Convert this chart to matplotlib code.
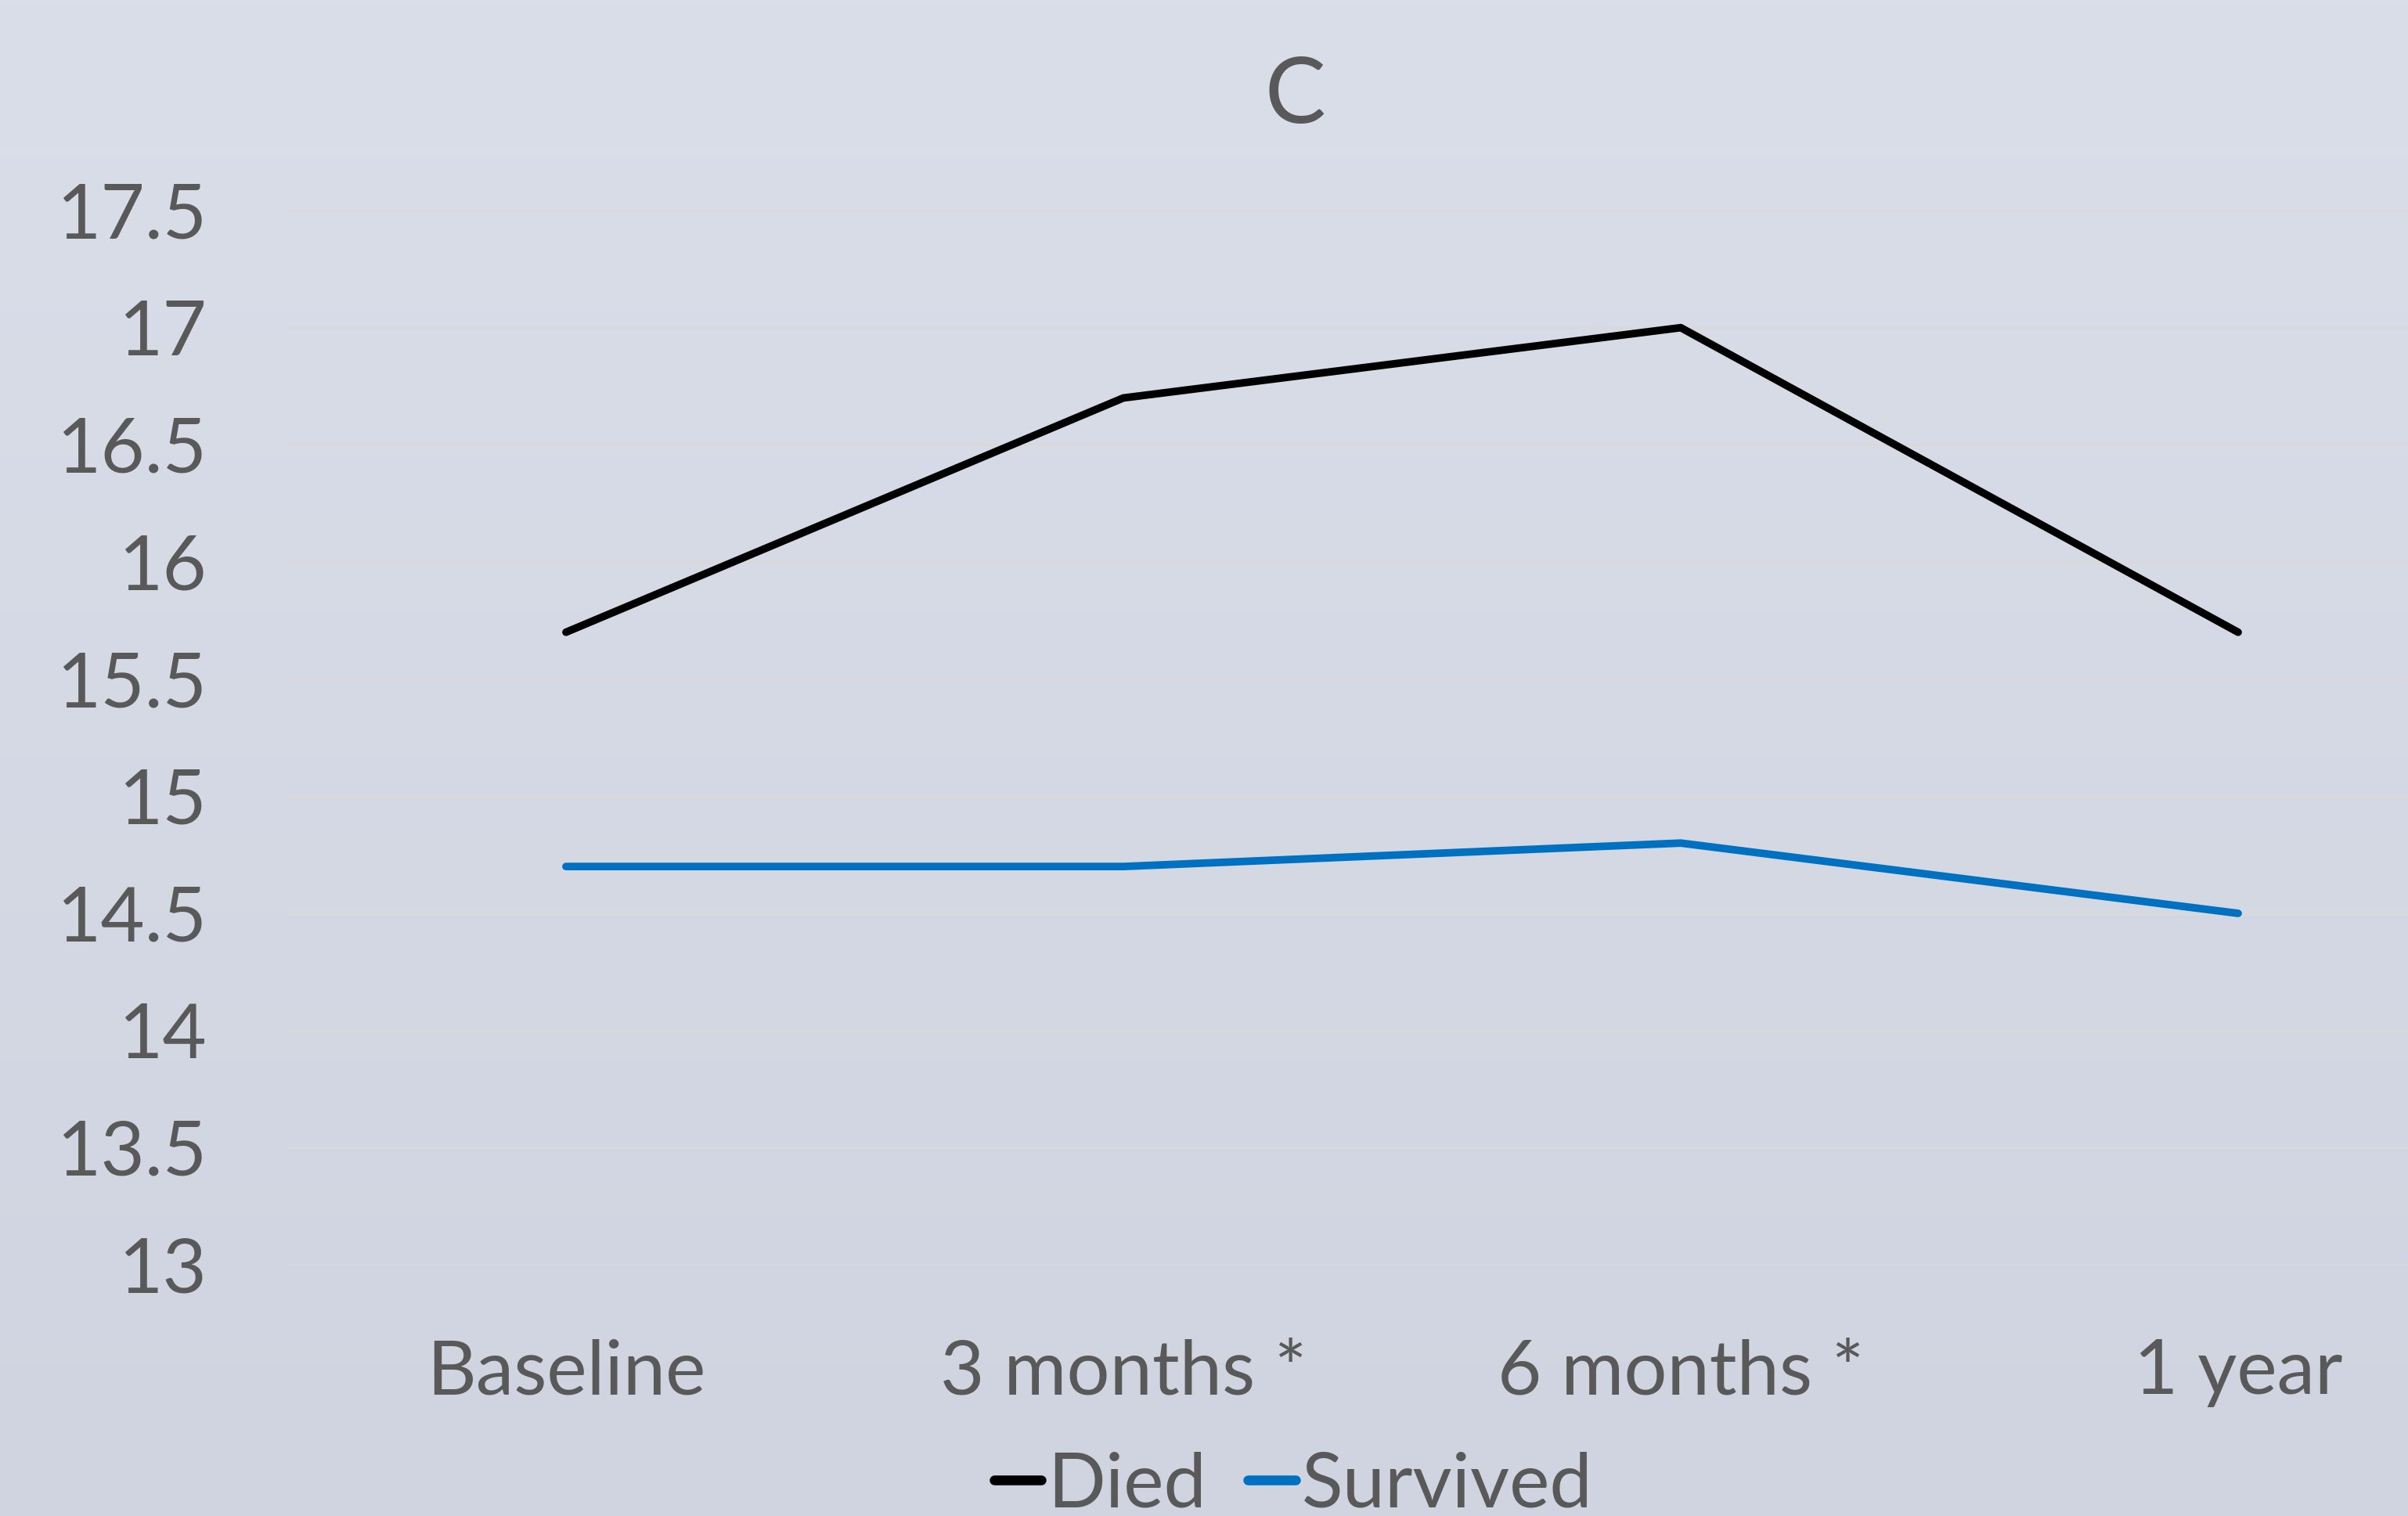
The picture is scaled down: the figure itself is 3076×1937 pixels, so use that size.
import numpy as np
import matplotlib
matplotlib.use("Agg")
import matplotlib.pyplot as plt

# data
timepoints = ["Baseline", "3 months *", "6 months *", "1 year"]
died = [15.7, 16.7, 17.0, 15.7]
survived = [14.7, 14.7, 14.8, 14.5]
y_ticks = [13, 13.5, 14, 14.5, 15, 15.5, 16, 16.5, 17, 17.5]
y_tick_labels = ["13", "13.5", "14", "14.5", "15", "15.5", "16", "16.5", "17", "17.5"]

W, H, DPI = 3076, 1937, 100
TEXT = "#595959"
GRID = "#d9d9d9"
FONT = "Lato"

plt.rcParams["font.family"] = [FONT, "DejaVu Sans"]

fig = plt.figure(figsize=(W / DPI, H / DPI), dpi=DPI)

# soft vertical gradient behind everything
bg = fig.add_axes([0, 0, 1, 1], zorder=-10)
top = np.array([218, 222, 233]) / 255
bottom = np.array([207, 212, 224]) / 255
t = np.linspace(0, 1, 256)[:, None]
grad = top[None, None, :] * (1 - t[..., None]) + bottom[None, None, :] * t[..., None]
bg.imshow(grad, aspect="auto", extent=[0, 1, 0, 1])
bg.set_axis_off()

# plot area: left edge at 367 px, 13 -> 1616 px, 17.5 -> 269 px
left = 367 / W
width = (4 * 712) / W
bottom_ax = 1 - 1616 / H
height = (1616 - 269) / H
ax = fig.add_axes([left, bottom_ax, width, height])
ax.set_facecolor("none")

x = np.arange(len(timepoints))
ax.plot(x, died, color="black", lw=7, solid_capstyle="round", solid_joinstyle="round",
        label="Died", zorder=3)
ax.plot(x, survived, color="#0070c0", lw=7, solid_capstyle="round", solid_joinstyle="round",
        label="Survived", zorder=3)

ax.set_xlim(-0.5, 3.5)
ax.set_ylim(13, 17.5)
ax.set_yticks(y_ticks)
ax.set_yticklabels(y_tick_labels)
ax.set_xticks(x)
ax.set_xticklabels(timepoints)
ax.yaxis.grid(True, color=GRID, lw=2.2)
ax.set_axisbelow(True)
for s in ax.spines.values():
    s.set_visible(False)
ax.tick_params(axis="both", length=0, colors=TEXT, labelsize=70)
ax.tick_params(axis="y", pad=74)
ax.tick_params(axis="x", pad=68)

# chart title
fig.text(1654 / W, 1 - 124 / H, "C", ha="center", va="center", fontsize=84, color=TEXT)

# legend along the bottom edge
leg = fig.legend(loc="center", bbox_to_anchor=(1652 / W, 1 - 1898 / H), ncol=2,
                 frameon=False, fontsize=70, handlelength=0.62, handletextpad=0.08,
                 columnspacing=0.55, borderpad=0, borderaxespad=0)
for txt in leg.get_texts():
    txt.set_color(TEXT)
for ln in leg.get_lines():
    ln.set_linewidth(9)
    ln.set_solid_capstyle("round")

fig.savefig("out.png", dpi=DPI)
